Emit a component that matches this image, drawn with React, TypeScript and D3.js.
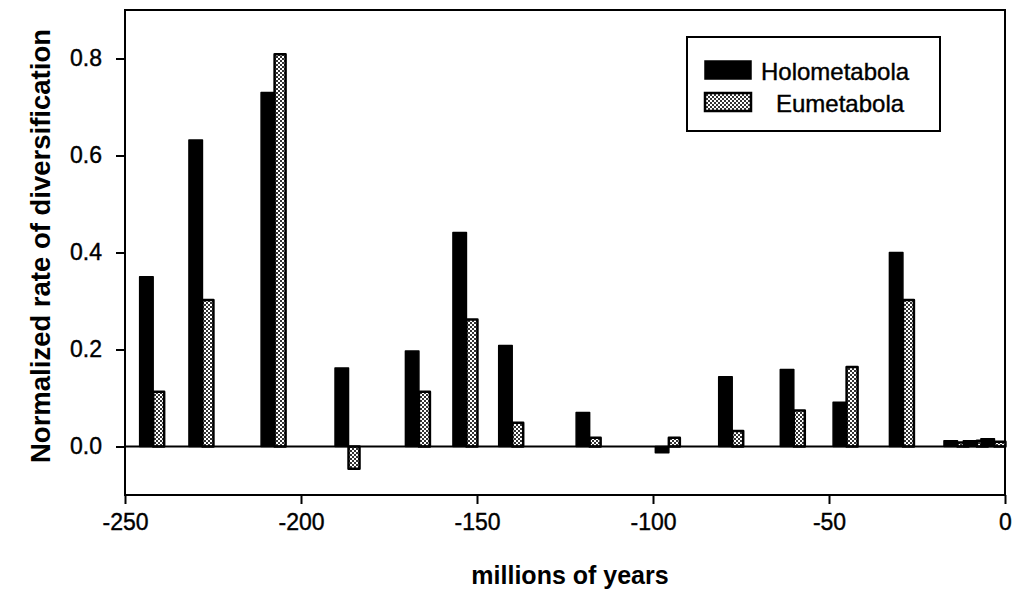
import { useEffect, useRef } from "react"
import * as d3 from "d3"

// ages (Myr) at which each pair of bars is centred
const ages = [-242, -228, -207.5, -186.5, -166.5, -153, -140, -118, -95.5, -77.5, -60, -45, -29, -13.5, -8, -3]
const holometabola = [0.35, 0.632, 0.73, 0.162, 0.197, 0.441, 0.208, 0.07, -0.013, 0.144, 0.159, 0.091, 0.4, 0.012, 0.012, 0.016]
const eumetabola = [0.113, 0.302, 0.809, -0.046, 0.113, 0.262, 0.049, 0.018, 0.018, 0.032, 0.074, 0.164, 0.302, 0.008, 0.012, 0.01]
const xTicks = [-250, -200, -150, -100, -50, 0]
const yTicks = [0, 0.2, 0.4, 0.6, 0.8]
const seriesNames = ["Holometabola", "Eumetabola"]

export default function App() {
  const svgRef = useRef(null)

  useEffect(() => {
    if (!svgRef.current) return
    const svg = d3.select(svgRef.current)
    svg.selectAll("*").remove()

    const width = 1017
    const height = 592
    const margin = { top: 10, right: 12, bottom: 97, left: 125 }
    const font = "'Liberation Sans', Arial, sans-serif"

    const x = d3.scaleLinear().domain([-250, 0]).range([margin.left, width - margin.right])
    const y = d3.scaleLinear().domain([-0.1, 0.9]).range([height - margin.bottom, margin.top])

    // checkered fill for Eumetabola
    const defs = svg.append("defs")
    const pat = defs
      .append("pattern")
      .attr("id", "checker")
      .attr("patternUnits", "userSpaceOnUse")
      .attr("width", 4)
      .attr("height", 4)
    pat.append("rect").attr("width", 4).attr("height", 4).attr("fill", "#fff")
    pat.append("rect").attr("width", 2).attr("height", 2).attr("fill", "#333")
    pat.append("rect").attr("x", 2).attr("y", 2).attr("width", 2).attr("height", 2).attr("fill", "#333")

    // frame
    svg
      .append("rect")
      .attr("x", x(-250))
      .attr("y", y(0.9))
      .attr("width", x(0) - x(-250))
      .attr("height", y(-0.1) - y(0.9))
      .attr("fill", "none")
      .attr("stroke", "#000")
      .attr("stroke-width", 2)

    // y axis ticks + labels
    const yAxis = svg.append("g").attr("transform", `translate(${x(-250)},0)`)
    yAxis
      .call(
        d3
          .axisLeft(y)
          .tickValues(yTicks)
          .tickSize(9)
          .tickPadding(14)
          .tickFormat((d) => d3.format(".1f")(d)),
      )
      .call((g) => g.select(".domain").remove())
    yAxis.selectAll("line").attr("stroke-width", 2)
    yAxis
      .selectAll("text")
      .attr("font-size", "23px")
      .attr("font-family", font)
      .attr("fill", "#000")
      .attr("stroke", "#000")
      .attr("stroke-width", 0.4)

    // x axis ticks + labels (plain hyphen for minus, as in the original)
    const xAxis = svg.append("g").attr("transform", `translate(0,${y(-0.1)})`)
    xAxis
      .call(
        d3
          .axisBottom(x)
          .tickValues(xTicks)
          .tickSize(9)
          .tickPadding(10)
          .tickFormat((d) => String(d)),
      )
      .call((g) => g.select(".domain").remove())
    xAxis.selectAll("line").attr("stroke-width", 2)
    xAxis
      .selectAll("text")
      .attr("font-size", "23px")
      .attr("font-family", font)
      .attr("fill", "#000")
      .attr("stroke", "#000")
      .attr("stroke-width", 0.4)

    // axis titles
    svg
      .append("text")
      .attr("transform", `translate(50,246) rotate(-90)`)
      .attr("text-anchor", "middle")
      .attr("font-size", "27.5px")
      .attr("font-weight", "bold")
      .attr("font-family", font)
      .text("Normalized rate of diversification")

    svg
      .append("text")
      .attr("x", 570)
      .attr("y", 584)
      .attr("text-anchor", "middle")
      .attr("font-size", "25px")
      .attr("font-weight", "bold")
      .attr("font-family", font)
      .text("millions of years")

    // bars
    const holoW = 13.5
    const euW = 11
    const bars = svg.append("g")
    ages.forEach((age, i) => {
      const cx = x(age)
      const h = holometabola[i]
      const e = eumetabola[i]
      bars
        .append("rect")
        .attr("x", cx - holoW)
        .attr("y", Math.min(y(h), y(0)))
        .attr("width", holoW)
        .attr("height", Math.abs(y(h) - y(0)))
        .attr("fill", "#000")
        .attr("stroke", "#000")
        .attr("stroke-width", 1.5)
        .attr("stroke-linejoin", "round")
      bars
        .append("rect")
        .attr("x", cx)
        .attr("y", Math.min(y(e), y(0)))
        .attr("width", euW)
        .attr("height", Math.abs(y(e) - y(0)))
        .attr("fill", "url(#checker)")
        .attr("stroke", "#000")
        .attr("stroke-width", 2.5)
        .attr("stroke-linejoin", "round")
    })

    // zero line
    svg
      .append("line")
      .attr("x1", x(-250))
      .attr("x2", x(0))
      .attr("y1", y(0))
      .attr("y2", y(0))
      .attr("stroke", "#000")
      .attr("stroke-width", 2)

    // legend
    const legend = svg.append("g")
    legend
      .append("rect")
      .attr("x", 687)
      .attr("y", 37)
      .attr("width", 253)
      .attr("height", 94)
      .attr("fill", "#fff")
      .attr("stroke", "#000")
      .attr("stroke-width", 2)

    const legendFills = ["#000", "url(#checker)"]
    const legendTextX = [761, 776]
    seriesNames.forEach((name, i) => {
      const ly = 61 + i * 32
      legend
        .append("rect")
        .attr("x", 705)
        .attr("y", ly)
        .attr("width", 46)
        .attr("height", 18)
        .attr("fill", legendFills[i])
        .attr("stroke", "#000")
        .attr("stroke-width", i === 0 ? 1.5 : 2.5)
      legend
        .append("text")
        .attr("x", legendTextX[i])
        .attr("y", ly + 19)
        .attr("font-size", "24px")
        .attr("font-family", font)
        .attr("stroke", "#000")
        .attr("stroke-width", 0.4)
        .text(name)
    })

    svg.attr("width", width).attr("height", height).attr("viewBox", [0, 0, width, height])
  }, [])

  return (
    <svg
      ref={svgRef}
      style={{ position: "absolute", left: 0, top: 0, background: "#fff", display: "block" }}
    ></svg>
  )
}
